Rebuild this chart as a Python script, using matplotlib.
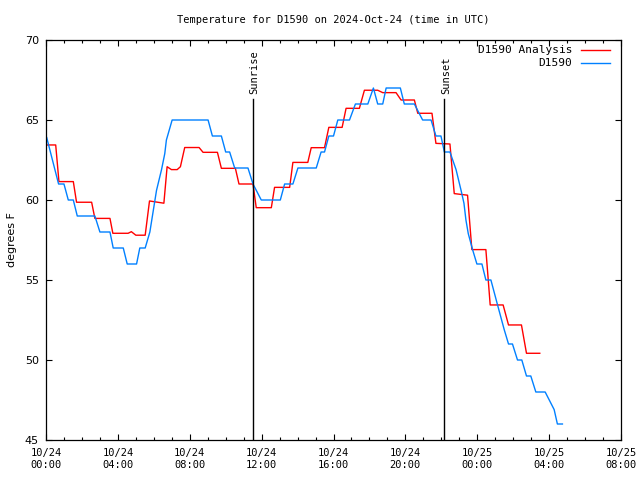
import matplotlib
matplotlib.use("Agg")
import matplotlib.pyplot as plt
from matplotlib.ticker import MultipleLocator, FixedLocator

# hours since 2024-10-24 00:00 UTC
analysis_hours = [0.04, 0.54, 0.72, 1.52, 1.7, 2.54, 2.72, 3.56, 3.72, 4.57, 4.75, 5.0,
                  5.52, 5.76, 6.56, 6.74, 6.98, 7.3, 7.48, 7.72, 8.52, 8.74, 9.54, 9.76,
                  10.54, 10.74, 11.52, 11.7, 12.54, 12.72, 13.56, 13.74, 14.57, 14.76,
                  15.5, 15.74, 16.48, 16.7, 17.44, 17.72, 18.46, 18.74, 19.48, 19.76,
                  20.5, 20.69, 21.48, 21.7, 22.48, 22.72, 23.46, 23.7, 24.48, 24.72,
                  25.44, 25.74, 26.46, 26.74, 27.48]
analysis_temps = [63.44, 63.44, 61.15, 61.15, 59.86, 59.86, 58.85, 58.85, 57.92, 57.92, 58.02, 57.8,
                  57.8, 59.94, 59.8, 62.08, 61.9, 61.9, 62.08, 63.28, 63.28, 62.98, 62.98, 61.98,
                  61.98, 61.0, 61.0, 59.52, 59.52, 60.79, 60.79, 62.35, 62.35, 63.27,
                  63.27, 64.54, 64.54, 65.73, 65.73, 66.86, 66.86, 66.71, 66.71, 66.25,
                  66.25, 65.42, 65.42, 63.54, 63.5, 60.4, 60.3, 56.9, 56.9, 53.44,
                  53.44, 52.19, 52.19, 50.42, 50.42]

obs_hours = [0.04, 0.7, 1.0, 1.24, 1.52, 1.74, 2.72, 3.0, 3.56, 3.74, 4.3, 4.52, 5.04, 5.22,
             5.52, 5.78, 6.15, 6.43, 6.61, 6.7, 7.02, 9.02, 9.26, 9.76, 10.0, 10.22, 10.5,
             11.24, 11.52, 11.98, 13.04, 13.28, 13.74, 14.02, 15.04, 15.31, 15.5, 15.74,
             16.0, 16.24, 16.89, 17.22, 17.91, 18.22, 18.46, 18.74, 18.93, 19.72, 19.94,
             20.5, 20.96, 21.43, 21.7, 21.98, 22.17, 22.48, 22.82, 23.1, 23.26, 23.37,
             23.5, 23.74, 23.98, 24.26, 24.48, 24.76, 25.13, 25.5, 25.74, 25.96, 26.24,
             26.48, 26.74, 26.98, 27.26, 27.78, 28.28, 28.46, 28.74]
obs_temps = [63.9, 61.0, 61.0, 60.0, 60.0, 59.0, 59.0, 58.0, 58.0, 57.0, 57.0, 56.0, 56.0, 57.0,
             57.0, 58.0, 60.6, 61.9, 62.9, 63.75, 65.0, 65.0, 64.0, 64.0, 63.0, 63.0, 62.0,
             62.0, 61.0, 60.0, 60.0, 61.0, 61.0, 62.0, 62.0, 63.0, 63.0, 64.0,
             64.0, 65.0, 65.0, 66.0, 66.0, 67.0, 66.0, 66.0, 67.0, 67.0, 66.0,
             66.0, 65.0, 65.0, 64.0, 64.0, 63.0, 63.0, 61.9, 60.6, 59.8, 58.75,
             57.9, 56.9, 56.0, 56.0, 55.0, 55.0, 53.44, 51.9, 51.0, 51.0, 50.0,
             50.0, 49.0, 49.0, 48.0, 48.0, 46.9, 46.0, 46.0]

sunrise_hour = 11.5
sunset_hour = 22.17

tick_hours = [0, 4, 8, 12, 16, 20, 24, 28, 32]
tick_labels = ["10/24\n00:00", "10/24\n04:00", "10/24\n08:00", "10/24\n12:00", "10/24\n16:00",
               "10/24\n20:00", "10/25\n00:00", "10/25\n04:00", "10/25\n08:00"]

plt.rcParams['font.family'] = ['DejaVu Sans Mono']
plt.rcParams['font.size'] = 7.5

fig = plt.figure(figsize=(6.4, 4.8), dpi=100)
ax = fig.add_axes([46 / 640, 40 / 480, 575 / 640, 400 / 480])

ax.plot(analysis_hours, analysis_temps, color='#ff0000', lw=1.0)
ax.plot(obs_hours, obs_temps, color='#0080ff', lw=1.0)

# sunrise / sunset markers
for h, name in [(sunrise_hour, "Sunrise"), (sunset_hour, "Sunset")]:
    ax.plot([h, h], [45, 66.3], color='black', lw=1.0)
    ax.text(h + 0.1, 66.6, name, rotation=90, ha='center', va='bottom', fontsize=7.5)

ax.set_xlim(0, 32)
ax.set_ylim(45, 70)
ax.xaxis.set_major_locator(FixedLocator(tick_hours))
ax.set_xticklabels(tick_labels)
ax.xaxis.set_minor_locator(MultipleLocator(1))
ax.yaxis.set_major_locator(MultipleLocator(5))
ax.tick_params(which='both', direction='in', top=True, right=True, width=0.8)
ax.tick_params(which='major', length=4)
ax.tick_params(which='minor', length=2)
ax.tick_params(axis='x', pad=6)
ax.tick_params(axis='y', labelsize=8, pad=5)
for lab in ax.get_yticklabels():
    lab.set_family('DejaVu Sans')
for s in ax.spines.values():
    s.set_linewidth(0.9)

ax.set_ylabel("degrees F", fontfamily='DejaVu Sans', fontsize=8, labelpad=6)
ax.set_title("Temperature for D1590 on 2024-Oct-24 (time in UTC)", fontsize=7.5, pad=12)

# gnuplot-style key, labels right aligned
ax.text(0.915, 0.975, "D1590 Analysis", transform=ax.transAxes, ha='right', va='center', fontsize=8)
ax.text(0.915, 0.943, "D1590", transform=ax.transAxes, ha='right', va='center', fontsize=8)
ax.plot([0.93, 0.98], [0.975, 0.975], color='#ff0000', lw=1.0, transform=ax.transAxes)
ax.plot([0.93, 0.98], [0.943, 0.943], color='#0080ff', lw=1.0, transform=ax.transAxes)

fig.savefig("out.png", dpi=100)
